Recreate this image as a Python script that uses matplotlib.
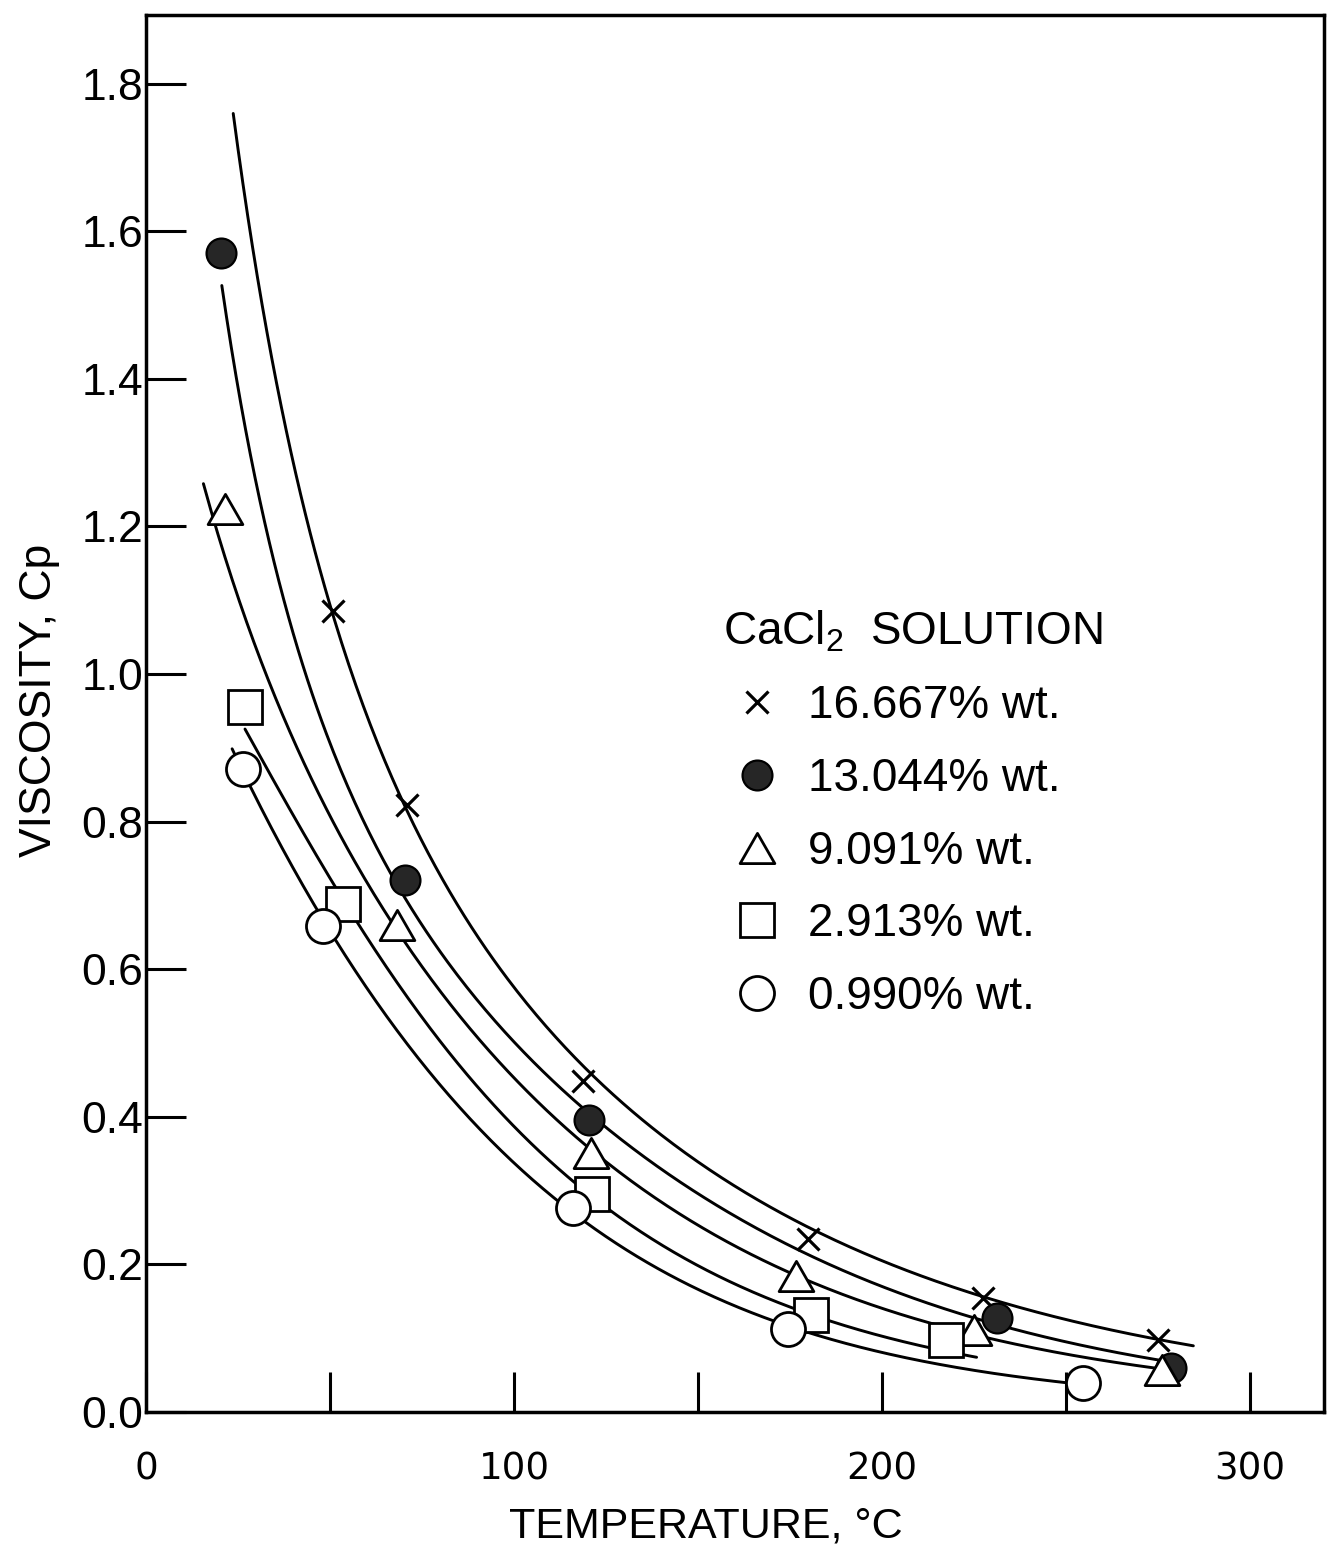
import numpy as np
import matplotlib
matplotlib.use("Agg")
import matplotlib.pyplot as plt
from matplotlib.path import Path

plt.rcParams["mathtext.fontset"] = "custom"
plt.rcParams["mathtext.rm"] = "Liberation Sans"
plt.rcParams["mathtext.it"] = "Liberation Sans:italic"

# Measured viscosity (cP) of aqueous CaCl2 solutions vs temperature (deg C)
temp_16667 = [50.7, 70.8, 118.8, 179.8, 227.5, 275.1]
visc_16667 = [1.085, 0.822, 0.448, 0.234, 0.154, 0.098]

temp_13044 = [20.4, 70.4, 120.5, 231.2, 278.4]
visc_13044 = [1.570, 0.721, 0.395, 0.127, 0.059]

temp_9091 = [21.5, 68.3, 120.8, 176.5, 225.0, 276.0]
visc_9091 = [1.224, 0.660, 0.351, 0.184, 0.111, 0.057]

temp_2913 = [26.9, 53.6, 121.1, 180.6, 217.4]
visc_2913 = [0.955, 0.689, 0.296, 0.131, 0.097]

temp_0990 = [26.4, 48.2, 115.9, 174.4, 254.5]
visc_0990 = [0.871, 0.658, 0.276, 0.113, 0.039]

# Points along each hand-faired correlation curve (deg C, cP)
curve_T_16667 = [23.7, 26.4, 35.6, 50.0, 70.8, 105.0, 118.8, 179.8, 191.3, 204.9, 227.5, 275.1, 284.6]
curve_v_16667 = [1.789, 1.642, 1.371, 1.100, 0.822, 0.558, 0.455, 0.247, 0.224, 0.197, 0.158, 0.099, 0.0885]

curve_T_13044 = [20.6, 25.1, 36.4, 70.4, 120.5, 191.3, 231.2, 275.5, 278.4]
curve_v_13044 = [1.547, 1.371, 1.100, 0.721, 0.395, 0.181, 0.127, 0.070, 0.066]

curve_T_9091 = [15.6, 17.4, 25.5, 68.3, 120.8, 176.5, 191.3, 225.0, 276.0]
curve_v_9091 = [1.254, 1.224, 1.100, 0.660, 0.351, 0.184, 0.152, 0.111, 0.057]

curve_T_2913 = [26.9, 53.6, 121.1, 180.6, 191.3, 217.4, 225.7]
curve_v_2913 = [0.928, 0.689, 0.296, 0.131, 0.113, 0.085, 0.073]

curve_T_0990 = [23.4, 26.4, 48.2, 115.9, 174.4, 191.3, 249.7]
curve_v_0990 = [0.900, 0.871, 0.658, 0.276, 0.113, 0.093, 0.040]

series_labels = ["16.667% wt.", "13.044% wt.", "9.091% wt.", "2.913% wt.", "0.990% wt."]

x_ticks = [0, 50, 100, 150, 200, 250, 300]
x_tick_labels = ["0", "", "100", "", "200", "", "300"]
y_ticks = [0.0, 0.2, 0.4, 0.6, 0.8, 1.0, 1.2, 1.4, 1.6, 1.8]
y_tick_labels = ["0.0", "0.2", "0.4", "0.6", "0.8", "1.0", "1.2", "1.4", "1.6", "1.8"]


def smooth_curve(t, v):
    """Least-squares cubic of ln(viscosity) in 1/T(K), drawn over the traced span."""
    t = np.asarray(t, float)
    u = 1.0 / (t + 273.15)
    coef = np.polyfit(u, np.log(np.asarray(v, float)), 3)
    tt = np.linspace(t.min(), t.max(), 400)
    return tt, np.exp(np.polyval(coef, 1.0 / (tt + 273.15)))


tri = Path([(-1, -0.87), (1, -0.87), (0, 0.87), (-1, -0.87)],
           [Path.MOVETO, Path.LINETO, Path.LINETO, Path.CLOSEPOLY])

styles = [
    dict(marker="x", ms=16, mew=2.3, mec="black", mfc="black"),
    dict(marker="o", ms=21.5, mew=1.6, mec="black", mfc="#262626"),
    dict(marker=tri, ms=25, mew=2.0, mec="black", mfc="white"),
    dict(marker="s", ms=24, mew=2.0, mec="black", mfc="white"),
    dict(marker="o", ms=24.5, mew=2.0, mec="black", mfc="white"),
]

data = [(temp_16667, visc_16667), (temp_13044, visc_13044), (temp_9091, visc_9091),
        (temp_2913, visc_2913), (temp_0990, visc_0990)]
curves = [(curve_T_16667, curve_v_16667), (curve_T_13044, curve_v_13044),
          (curve_T_9091, curve_v_9091), (curve_T_2913, curve_v_2913),
          (curve_T_0990, curve_v_0990)]

fig = plt.figure(figsize=(13.29, 15.59), dpi=100)
ax = fig.add_axes([146 / 1329, 147 / 1559, 1178 / 1329, 1397 / 1559])

for t, v in curves:
    tt, vv = smooth_curve(t, v)
    ax.plot(tt, vv, color="black", lw=2.1, solid_capstyle="round", zorder=2)

handles = []
for (t, v), st, lab in zip(data, styles, series_labels):
    h, = ax.plot(t, v, ls="none", label=lab, zorder=3, **st)
    handles.append(h)

ax.set_xlim(0, 320.1)
ax.set_ylim(0, 1.893)

for sp in ax.spines.values():
    sp.set_linewidth(2.5)

ax.set_xticks(x_ticks)
ax.set_xticklabels(x_tick_labels, fontfamily="DejaVu Sans", fontsize=26.7)
ax.set_yticks(y_ticks)
ax.set_yticklabels(y_tick_labels, fontfamily="Liberation Sans", fontsize=32)
ax.tick_params(axis="both", direction="in", length=29, width=2.2)
ax.tick_params(axis="x", pad=28)
ax.tick_params(axis="y", pad=2)

ax.set_xlabel("TEMPERATURE, °C", fontfamily="Liberation Sans", fontsize=31, va="center")
ax.xaxis.set_label_coords(0.4754, -0.0823)
ax.set_ylabel("VISCOSITY, Cp", fontfamily="Liberation Sans", fontsize=32, va="center")
ax.yaxis.set_label_coords(-0.09, 0.5097)

leg = ax.legend(handles=handles, loc="upper left", bbox_to_anchor=(0.4898, 0.5745),
                title="CaCl$_2$  SOLUTION", title_fontsize=33,
                prop={"family": "Liberation Sans", "size": 33},
                frameon=False, borderpad=0, borderaxespad=0,
                handlelength=1.48, handletextpad=0.37, labelspacing=0.63,
                alignment="left")
leg.get_title().set_fontfamily("Liberation Sans")

fig.savefig("out.png", dpi=100, facecolor="white")
